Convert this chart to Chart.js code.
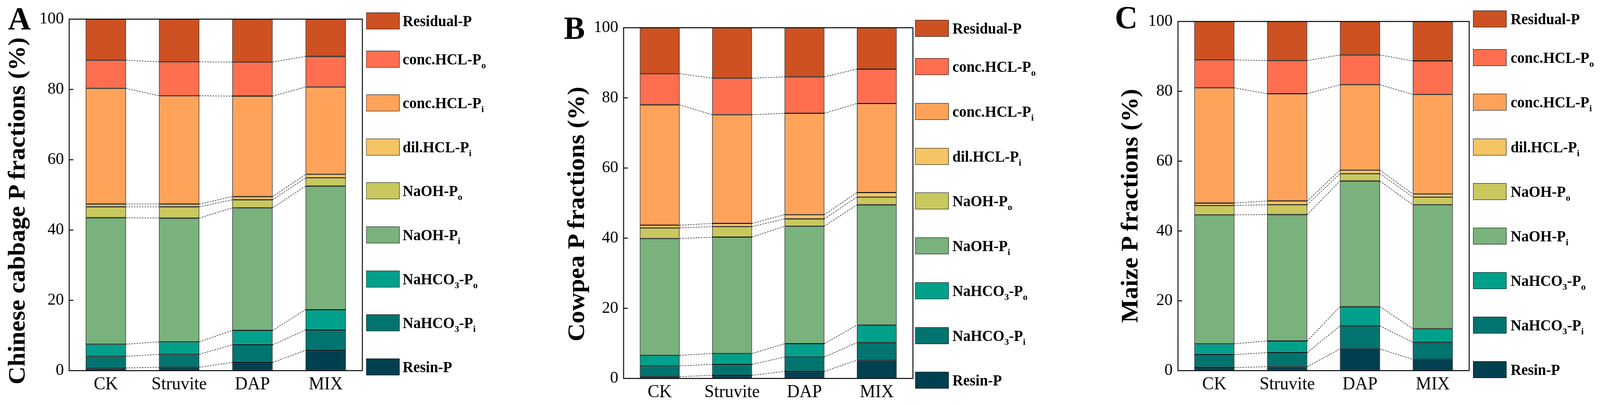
<!DOCTYPE html>
<html>
<head>
<meta charset="utf-8">
<script src="https://cdn.jsdelivr.net/npm/chart.js@4.4.1/dist/chart.umd.min.js"></script>
<style>
  html, body { margin: 0; padding: 0; background: #fff; overflow: hidden; }
  #fig { width: 4208px; height: 1037px; position: relative; transform-origin: 0 0;
         font-family: 'Liberation Serif', 'Times New Roman', serif; color: #000; }
  .box { position: absolute; top: 0; height: 1037px; }
  .letter { position: absolute; font-weight: bold; font-size: 83px; line-height: 83px; }
  .ytitle { position: absolute; width: 1000px; height: 64px; line-height: 64px; font-size: 64px;
            font-weight: bold; text-align: center; white-space: nowrap;
            transform: translate(-50%, -50%) rotate(-90deg); }
  .sw { position: absolute; width: 86px; height: 41px; border: 1px solid #000; }
  .lt { position: absolute; height: 43px; line-height: 43px; font-size: 39px; font-weight: bold; white-space: nowrap; }
  .lt sub { font-size: 24px; line-height: 0; vertical-align: -10px; }
</style>
</head>
<body>
<div id="fig"></div>
<script>
/* P fractions of three crops — stacked 100% bars with dotted connectors */

const GROUPS  = ['CK', 'Struvite', 'DAP', 'MIX'];
const Y_TICKS = [0, 20, 40, 60, 80, 100];

// bottom -> top of each stack
const FRACTIONS = ['Resin-P', 'NaHCO<sub>3</sub>-P<sub>i</sub>', 'NaHCO<sub>3</sub>-P<sub>o</sub>',
  'NaOH-P<sub>i</sub>', 'NaOH-P<sub>o</sub>', 'dil.HCL-P<sub>i</sub>', 'conc.HCL-P<sub>i</sub>',
  'conc.HCL-P<sub>o</sub>', 'Residual-P'];
const COLORS = ['#004050', '#017470', '#00A08B', '#79B27C', '#C9C85F', '#F5C465',
  '#FFA35B', '#FF6F4F', '#CD5122'];

// % per fraction, columns follow GROUPS
const CABBAGE = [
  [0.75, 0.96, 2.33, 5.78],
  [3.32, 3.67, 5.00, 5.78],
  [3.45, 3.56, 4.11, 5.77],
  [35.98, 35.21, 34.86, 35.17],
  [3.10, 3.20, 2.30, 2.35],
  [0.80, 0.80, 0.90, 1.00],
  [32.90, 30.80, 28.60, 24.85],
  [8.00, 9.65, 9.70, 8.70],
  [11.70, 12.15, 12.20, 10.60],
];
const COWPEA = [
  [0.5, 0.9, 2.0, 5.2],
  [3.1, 3.1, 4.1, 5.0],
  [3.0, 3.1, 3.8, 5.0],
  [33.3, 33.2, 33.5, 34.3],
  [3.0, 3.0, 2.1, 2.2],
  [0.8, 0.9, 1.2, 1.3],
  [34.3, 31.0, 28.9, 25.4],
  [8.9, 10.4, 10.4, 9.8],
  [13.1, 14.4, 14.0, 11.8],
];
const MAIZE = [
  [0.9, 1.1, 6.2, 3.2],
  [3.7, 4.05, 6.6, 4.9],
  [3.1, 3.35, 5.5, 3.9],
  [36.9, 36.2, 36.0, 35.5],
  [2.7, 2.8, 2.1, 2.2],
  [0.7, 1.1, 1.0, 0.9],
  [33.0, 30.7, 24.5, 28.5],
  [8.0, 9.5, 8.5, 9.6],
  [11.0, 11.2, 9.6, 11.3],
];

const FONT = 'Liberation Serif';
Chart.defaults.font.family = FONT;

const PANELS = [
  { letter: 'A', data: CABBAGE, title: 'Chinese cabbage P fractions (%)',
    boxLeft: 96, boxWidth: 904, top: 49, right: 47, xh: 88,
    letterPos: [21, 6], titlePos: [44, 540],
    legend: { sx: 963, tx: 1059, first: 31.7, second: 129.5, step: 112.6 } },
  { letter: 'B', data: COWPEA, title: 'Cowpea P fractions (%)',
    boxLeft: 1554, boxWidth: 896, top: 71, right: 49, xh: 68,
    letterPos: [1483, 30], titlePos: [1515, 548],
    legend: { sx: 2407, tx: 2505, first: 51.3, second: 149.3, step: 114.7 } },
  { letter: 'C', data: MAIZE, title: 'Maize P fractions (%)',
    boxLeft: 3012, boxWidth: 898, top: 55, right: 46, xh: 88,
    letterPos: [2932, 3], titlePos: [2971, 527],
    legend: { sx: 3874, tx: 3973, first: 27, second: 126.3, step: 114.1 } },
];

// the figure is laid out at 4208 px; squeeze it if the window is narrower
const fig = document.getElementById('fig');
const sx = Math.min(1, window.innerWidth / 4208);
fig.style.transform = 'scale(' + sx + ', 1)';

const plainLabel = s => s.replace(/<sub>(.*?)<\/sub>/g, '$1');

/* dotted lines joining each segment top to the same segment in the next bar */
const connectorPlugin = {
  id: 'connectors',
  afterDatasetsDraw(chart) {
    const ctx = chart.ctx;
    const n = chart.data.datasets.length;
    ctx.save();
    ctx.strokeStyle = '#000';
    ctx.lineWidth = 1.3;
    ctx.setLineDash([4, 3]);
    for (let d = 0; d < n - 1; d++) {
      const bars = chart.getDatasetMeta(d).data;
      for (let i = 0; i < bars.length - 1; i++) {
        const a = bars[i], b = bars[i + 1];
        ctx.beginPath();
        ctx.moveTo(a.x + a.width / 2, a.y);
        ctx.lineTo(b.x - b.width / 2, b.y);
        ctx.stroke();
      }
    }
    ctx.restore();
  }
};

/* plot frame + inward ticks on the left axis */
const framePlugin = {
  id: 'frame',
  afterDraw(chart) {
    const { ctx, chartArea: a, scales } = chart;
    ctx.save();
    ctx.strokeStyle = '#000';
    ctx.lineWidth = 2.5;
    ctx.strokeRect(a.left, a.top, a.right - a.left, a.bottom - a.top);
    Y_TICKS.slice(1, -1).forEach(v => {
      const y = scales.y.getPixelForValue(v);
      ctx.beginPath();
      ctx.moveTo(a.left, y);
      ctx.lineTo(a.left + 11, y);
      ctx.stroke();
    });
    ctx.restore();
  }
};

function addDiv(cls, left, top, html) {
  const d = document.createElement('div');
  d.className = cls;
  d.style.left = left + 'px';
  d.style.top = top + 'px';
  if (html != null) d.innerHTML = html;
  fig.appendChild(d);
  return d;
}

PANELS.forEach(p => {
  const box = addDiv('box', p.boxLeft, 0);
  box.style.width = p.boxWidth + 'px';
  const canvas = document.createElement('canvas');
  box.appendChild(canvas);

  addDiv('letter', p.letterPos[0], p.letterPos[1]).textContent = p.letter;
  addDiv('ytitle', p.titlePos[0], p.titlePos[1]).textContent = p.title;

  // legend, top entry first
  const L = p.legend;
  FRACTIONS.slice().reverse().forEach((lab, k) => {
    const top = k === 0 ? L.first : L.second + (k - 1) * L.step;
    addDiv('sw', L.sx, top).style.background = COLORS[FRACTIONS.length - 1 - k];
    addDiv('lt', L.tx, top, lab);
  });

  new Chart(canvas, {
    type: 'bar',
    data: {
      labels: GROUPS,
      datasets: FRACTIONS.map((f, i) => ({
        label: plainLabel(f),
        data: p.data[i],
        backgroundColor: COLORS[i],
        borderColor: '#000',
        borderWidth: 1.5,
        borderSkipped: false,
        barPercentage: 0.55,
        categoryPercentage: 1,
      })),
    },
    options: {
      responsive: true,
      maintainAspectRatio: false,
      animation: false,
      layout: { padding: { left: 0, right: p.right, top: p.top, bottom: 0 } },
      plugins: { legend: { display: false }, tooltip: { enabled: false } },
      scales: {
        x: {
          stacked: true,
          grid: { display: false, drawTicks: false },
          border: { display: false },
          ticks: { color: '#000', padding: 8, font: { family: FONT, size: 46 } },
          afterFit: s => { s.height = p.xh; },
        },
        y: {
          stacked: true,
          min: 0,
          max: 100,
          afterBuildTicks: s => { s.ticks = Y_TICKS.map(v => ({ value: v })); },
          grid: { display: false, drawTicks: false },
          border: { display: false },
          ticks: { color: '#000', padding: 14, font: { family: FONT, size: 43 } },
          afterFit: s => { s.width = 86; },
        },
      },
    },
    plugins: [connectorPlugin, framePlugin],
  });
});
</script>
</body>
</html>
